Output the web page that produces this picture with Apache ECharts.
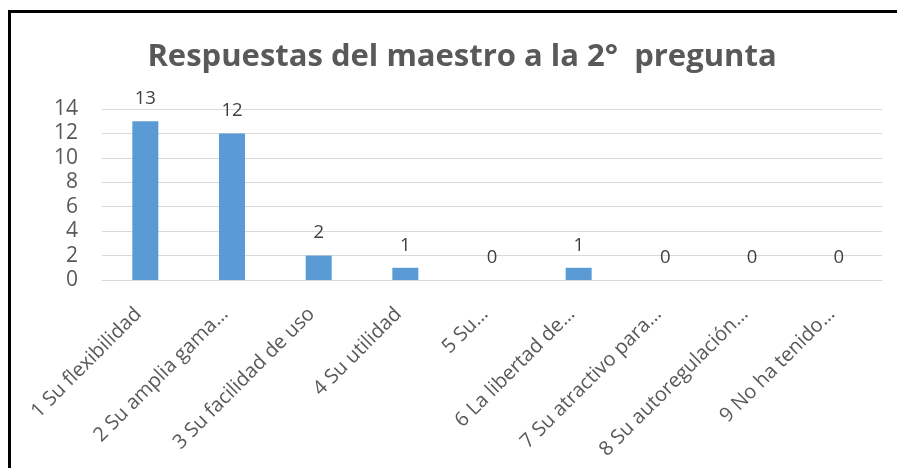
<!DOCTYPE html>
<html>
<head>
<meta charset="utf-8">
<script src="https://cdn.jsdelivr.net/npm/echarts@6/dist/echarts.min.js"></script>
<style>
  html, body { margin: 0; padding: 0; background: #fff; }
  #chart { width: 897px; height: 468px; }
</style>
</head>
<body>
<div id="chart"></div>
<script>
const categories = [
  '1 Su flexibilidad',
  '2 Su amplia gama…',
  '3 Su facilidad de uso',
  '4 Su utilidad',
  '5 Su…',
  '6 La libertad de…',
  '7 Su atractivo para…',
  '8 Su autoregulación…',
  '9 No ha tenido…'
]
const values = [13, 12, 2, 1, 0, 1, 0, 0, 0]
const yTicks = { min: 0, max: 14, interval: 2 }

const FONT = '"Open Sans", sans-serif'
const chart = echarts.init(document.getElementById('chart'))

chart.setOption({
  animation: false,
  backgroundColor: '#fff',
  title: {
    text: 'Respuestas del maestro a la 2°  pregunta',
    left: 457,
    textAlign: 'center',
    top: 37,
    textStyle: { fontFamily: FONT, fontWeight: 'bold', fontSize: 31, color: '#595959' }
  },
  graphic: [{
    type: 'rect',
    shape: { x: 9.5, y: 11.5, width: 1000, height: 1000 },
    style: { fill: 'none', stroke: '#000', lineWidth: 3 },
    silent: true
  }],
  grid: { left: 102, right: 15, top: 109, bottom: 188, containLabel: false },
  xAxis: {
    type: 'category',
    data: categories,
    axisLine: { lineStyle: { color: '#d9d9d9', width: 1 } },
    axisTick: { show: false },
    axisLabel: {
      rotate: 45,
      interval: 0,
      margin: 24,
      padding: [0, 10, 0, 0],
      fontFamily: FONT,
      fontSize: 20,
      color: '#595959'
    }
  },
  yAxis: {
    type: 'value',
    min: yTicks.min,
    max: yTicks.max,
    interval: yTicks.interval,
    axisLine: { show: false },
    axisTick: { show: false },
    splitLine: { lineStyle: { color: '#d9d9d9', width: 1 } },
    axisLabel: { fontFamily: FONT, fontSize: 21, color: '#595959', margin: 24 }
  },
  series: [{
    type: 'bar',
    data: values,
    barWidth: 26,
    itemStyle: { color: '#5b9bd5' },
    label: {
      show: true,
      position: 'top',
      distance: 13,
      fontFamily: FONT,
      fontSize: 18.5,
      color: '#404040'
    }
  }]
})
</script>
</body>
</html>
